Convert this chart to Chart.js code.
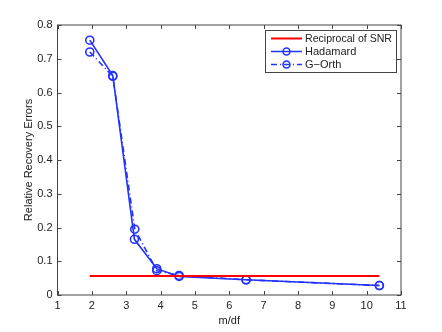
<!DOCTYPE html>
<html>
<head>
<meta charset="utf-8">
<script src="https://cdn.jsdelivr.net/npm/chart.js@4"></script>
<style>
  html, body { margin: 0; padding: 0; background: #fff; }
  #wrap { width: 442px; height: 332px; }
</style>
</head>
<body>
<div id="wrap"><canvas id="errChart" width="442" height="332"></canvas></div>
<script>
// values
const xTicks = [1, 2, 3, 4, 5, 6, 7, 8, 9, 10, 11];
const yTicks = [0, 0.1, 0.2, 0.3, 0.4, 0.5, 0.6, 0.7, 0.8];

const hadamardX = [1.94, 2.61, 3.24, 3.89, 4.54, 6.49, 10.37];
const hadamardY = [0.755, 0.650, 0.165, 0.078, 0.055, 0.045, 0.028];

const gorthX = [1.94, 2.61, 3.25, 3.89, 4.54, 6.49, 10.37];
const gorthY = [0.720, 0.648, 0.195, 0.072, 0.058, 0.045, 0.028];

const snrX = [1.94, 10.37];
const snrY = [0.056, 0.056];

const toPoints = (xs, ys) => xs.map((x, i) => ({ x: x, y: ys[i] }));

const blue = 'rgb(35, 50, 255)';
const red = 'rgb(255, 0, 0)';
const font = { family: 'Liberation Sans, Arial, sans-serif', size: 11 };

// matlab style box + inward ticks + legend
const boxPlugin = {
  id: 'box',
  afterDraw(chart) {
    const ctx = chart.ctx;
    const a = chart.chartArea;
    const xs = chart.scales.x, ys = chart.scales.y;
    ctx.save();
    ctx.strokeStyle = '#444';
    ctx.lineWidth = 1;
    ctx.strokeRect(a.left, a.top, a.right - a.left, a.bottom - a.top);
    ctx.beginPath();
    xTicks.forEach(v => {
      const px = Math.round(xs.getPixelForValue(v)) + 0.5;
      ctx.moveTo(px, a.bottom); ctx.lineTo(px, a.bottom - 4);
      ctx.moveTo(px, a.top); ctx.lineTo(px, a.top + 4);
    });
    yTicks.forEach(v => {
      const py = Math.round(ys.getPixelForValue(v)) + 0.5;
      ctx.moveTo(a.left, py); ctx.lineTo(a.left + 4, py);
      ctx.moveTo(a.right, py); ctx.lineTo(a.right - 4, py);
    });
    ctx.stroke();

    // legend
    const lx = 265, ly = 30, lw = 131, lh = 42;
    ctx.fillStyle = '#fff';
    ctx.fillRect(lx, ly, lw, lh);
    ctx.strokeStyle = '#444';
    ctx.strokeRect(lx + 0.5, ly + 0.5, lw, lh);
    const rows = [
      { label: 'Reciprocal of SNR', color: red, dash: [], marker: false },
      { label: 'Hadamard', color: blue, dash: [], marker: true },
      { label: 'G\u2212Orth', color: blue, dash: [6, 3, 1, 3], marker: true }
    ];
    ctx.font = '11px ' + font.family;
    ctx.textBaseline = 'middle';
    rows.forEach((r, i) => {
      const y = ly + 8.5 + i * 13;
      ctx.strokeStyle = r.color;
      ctx.lineWidth = r.marker ? 1.5 : 2;
      ctx.setLineDash(r.dash);
      ctx.beginPath(); ctx.moveTo(lx + 6, y); ctx.lineTo(lx + 37, y); ctx.stroke();
      ctx.setLineDash([]);
      if (r.marker) {
        ctx.beginPath(); ctx.arc(lx + 21.5, y, 3.5, 0, Math.PI * 2); ctx.stroke();
      }
      ctx.fillStyle = '#222';
      ctx.fillText(r.label, lx + 40, y + 0.5, lw - 44);
    });
    ctx.restore();
  }
};

new Chart(document.getElementById('errChart'), {
  type: 'line',
  data: {
    datasets: [{
      label: 'Reciprocal of SNR',
      data: toPoints(snrX, snrY),
      borderColor: red,
      borderWidth: 2,
      pointRadius: 0
    }, {
      label: 'Hadamard',
      data: toPoints(hadamardX, hadamardY),
      borderColor: blue,
      borderWidth: 1.6,
      pointRadius: 4,
      pointBorderWidth: 1.6,
      pointBorderColor: blue,
      pointBackgroundColor: 'rgba(0,0,0,0)'
    }, {
      label: 'G-Orth',
      data: toPoints(gorthX, gorthY),
      borderColor: blue,
      borderWidth: 1.6,
      borderDash: [6, 3, 1, 3],
      pointRadius: 4,
      pointBorderWidth: 1.6,
      pointBorderColor: blue,
      pointBackgroundColor: 'rgba(0,0,0,0)'
    }]
  },
  options: {
    responsive: false,
    animation: false,
    layout: { padding: { left: 16, top: 25, right: 41, bottom: 0 } },
    plugins: {
      legend: { display: false },
      tooltip: { enabled: false }
    },
    scales: {
      x: {
        type: 'linear',
        min: 1,
        max: 11,
        afterBuildTicks: s => { s.ticks = xTicks.map(v => ({ value: v })); },
        afterFit: s => { s.height = 37; },
        grid: { display: false, drawTicks: false, tickLength: 0 },
        border: { display: false },
        ticks: { color: '#222', font: font, padding: 4 },
        title: { display: true, text: 'm/df', color: '#222', font: font, padding: { top: 2 } }
      },
      y: {
        min: 0,
        max: 0.8,
        afterBuildTicks: s => { s.ticks = yTicks.map(v => ({ value: v })); },
        afterFit: s => { s.width = 41.5; },
        grid: { display: false, drawTicks: false, tickLength: 0 },
        border: { display: false },
        ticks: { color: '#222', font: font, padding: 5, callback: v => String(v) },
        title: { display: true, text: 'Relative Recovery Errors', color: '#222', font: font, padding: { top: 6, bottom: 0 } }
      }
    }
  },
  plugins: [boxPlugin]
});
</script>
</body>
</html>
